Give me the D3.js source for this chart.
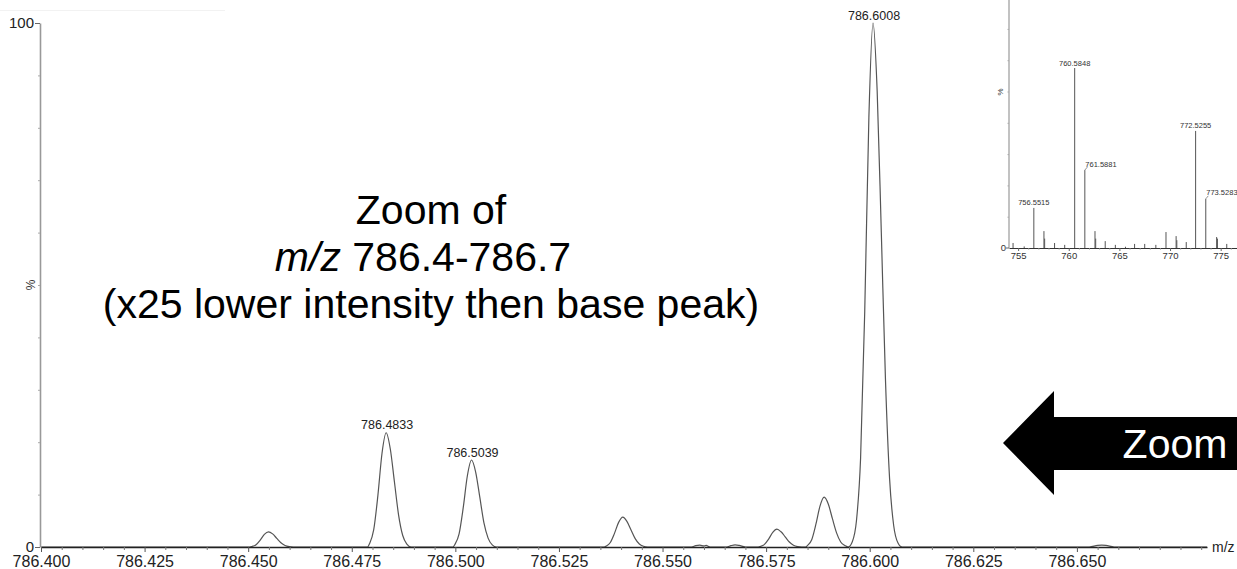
<!DOCTYPE html>
<html>
<head>
<meta charset="utf-8">
<script src="https://cdn.jsdelivr.net/npm/d3@7"></script>
<style>
  html, body { margin: 0; padding: 0; background: #fff; }
  svg { display: block; font-family: "Liberation Sans", Arial, sans-serif; }
</style>
</head>
<body>
<svg id="chart" width="1237" height="569"></svg>
<script>
// ---------- DATA ----------
// Main zoomed profile spectrum (m/z 786.40-786.68), relative intensity %
const profileMz = [
  786.4000, 786.4504, 786.4509, 786.4519, 786.4529, 786.4539, 786.4549, 786.4559, 786.4569, 786.4579, 786.4589, 786.4599, 786.4609,
  786.4788, 786.4793, 786.4803, 786.4813, 786.4823, 786.4833, 786.4843, 786.4853, 786.4863, 786.4873, 786.4883, 786.4893,
  786.4994, 786.4999, 786.5009, 786.5019, 786.5029, 786.5039, 786.5049, 786.5059, 786.5069, 786.5079, 786.5089, 786.5099,
  786.5359, 786.5364, 786.5374, 786.5384, 786.5394, 786.5404, 786.5414, 786.5424, 786.5434, 786.5444, 786.5454, 786.5464,
  786.5570, 786.5580, 786.5590, 786.5600, 786.5605, 786.5615,
  786.5655, 786.5665, 786.5675, 786.5685, 786.5700,
  786.5731, 786.5736, 786.5746, 786.5756, 786.5766, 786.5776, 786.5786, 786.5796, 786.5806, 786.5816, 786.5826, 786.5836,
  786.5845, 786.5850, 786.5860, 786.5870, 786.5880, 786.5890, 786.5900, 786.5910, 786.5920, 786.5930, 786.5940,
  786.5948, 786.5958, 786.5968, 786.5978, 786.5988, 786.5998, 786.6008, 786.6018, 786.6028, 786.6038, 786.6048, 786.6058, 786.6068, 786.6078,
  786.6530, 786.6550, 786.6560, 786.6570, 786.6590, 786.6814
];
const profileIntensity = [
  0, 0, 0.09, 0.44, 1.3, 2.4, 2.9, 2.5, 1.65, 0.81, 0.29, 0.07, 0,
  0, 0.65, 3.3, 9.8, 17.9, 21.8, 18.7, 12.4, 6.1, 2.2, 0.55, 0,
  0, 0.5, 2.5, 7.5, 13.6, 16.6, 14.3, 9.5, 4.6, 1.7, 0.4, 0,
  0, 0.17, 0.86, 2.6, 4.7, 5.7, 4.9, 3.25, 1.6, 0.57, 0.14, 0,
  0, 0.25, 0.35, 0.2, 0.3, 0,
  0, 0.25, 0.4, 0.3, 0,
  0, 0.1, 0.5, 1.5, 2.8, 3.4, 2.9, 1.95, 0.95, 0.34, 0.08, 0,
  0, 0.3, 1.4, 4.3, 7.8, 9.5, 8.2, 5.4, 2.7, 0.95, 0.3,
  0, 1, 5, 17, 45, 82, 100, 87, 60, 32, 13, 4, 0.8, 0,
  0, 0.3, 0.35, 0.3, 0, 0
];
// Labelled peaks of the zoomed spectrum
const peakLabelMz = [786.4833, 786.5039, 786.6008];
const peakLabelIntensity = [21.8, 16.6, 100];
const peakLabelText = ["786.4833", "786.5039", "786.6008"];

// Main axis ticks
const xMajorTicks = [786.400, 786.425, 786.450, 786.475, 786.500, 786.525, 786.550, 786.575, 786.600, 786.625, 786.650];
const xMinorTicks = [786.405, 786.410, 786.415, 786.420, 786.430, 786.435, 786.440, 786.445, 786.455, 786.460, 786.465, 786.470,
  786.480, 786.485, 786.490, 786.495, 786.505, 786.510, 786.515, 786.520, 786.530, 786.535, 786.540, 786.545,
  786.555, 786.560, 786.565, 786.570, 786.580, 786.585, 786.590, 786.595, 786.605, 786.610, 786.615, 786.620,
  786.630, 786.635, 786.640, 786.645, 786.655, 786.660, 786.665, 786.670, 786.675, 786.680];
const yMajorTicks = [0, 100];
const yMinorTicks = [10, 20, 30, 40, 50, 60, 70, 80, 90];

// Inset: centroid spectrum (m/z 754-777)
const insetMz = [754.5, 755.6, 756.5515, 757.55, 757.62, 758.6, 759.6, 760.5848, 761.5881, 762.59, 762.66, 763.6, 764.6,
  765.6, 766.5, 767.5, 768.6, 769.6, 770.6, 770.67, 771.6, 772.5255, 773.5283, 774.6, 774.68, 775.6];
const insetIntensity = [1.6, 0.5, 12.8, 5.4, 3.0, 1.6, 1.0, 57.5, 24.9, 5.4, 3.0, 2.2, 1.0,
  0.4, 1.3, 1.3, 1.0, 5.1, 3.8, 2.5, 1.9, 37.4, 15.7, 3.5, 3.0, 1.3];
const insetLabelMz = [756.5515, 760.5848, 761.5881, 772.5255, 773.5283];
const insetLabelIntensity = [12.8, 57.5, 24.9, 37.4, 15.7];
const insetLabelText = ["756.5515", "760.5848", "761.5881", "772.5255", "773.5283"];
const insetLabelSide = ["center", "center", "right", "center", "right"];
const insetXTicks = [755, 760, 765, 770, 775];
const insetXMinor = [756, 757, 758, 759, 761, 762, 763, 764, 766, 767, 768, 769, 771, 772, 773, 774, 776, 777];
const insetYMinor = [10, 20, 30, 40, 50, 60, 70];

// Annotation text
const noteLine1 = "Zoom of";
const noteLine2Italic = "m/z";
const noteLine2Rest = " 786.4-786.7";
const noteLine3 = "(x25 lower intensity then base peak)";
const arrowText = "Zoom";

// ---------- DRAWING ----------
const svg = d3.select("#chart");
const font = '"Liberation Sans", Arial, sans-serif';

// faint border artefact at top-left
svg.append("line").attr("x1", 0).attr("x2", 225).attr("y1", 10.5).attr("y2", 10.5)
  .attr("stroke", "#f2f2f2").attr("stroke-width", 1);

const x = d3.scaleLinear().domain([786.4, 786.6814]).range([41, 1207]);
const y = d3.scaleLinear().domain([0, 100]).range([547, 23]);

// spectrum trace
const pts = profileMz.map((m, i) => [m, profileIntensity[i]]);
const line = d3.line().x(d => x(d[0])).y(d => y(d[1])).curve(d3.curveMonotoneX);
svg.append("path").datum(pts).attr("d", line)
  .attr("fill", "none").attr("stroke", "#555").attr("stroke-width", 1.2);

// x axis
const xAxis = d3.axisBottom(x).tickValues(xMajorTicks).tickFormat(d3.format(".3f"))
  .tickSizeInner(5).tickSizeOuter(0).tickPadding(3.6);
const gx = svg.append("g").attr("transform", `translate(0,${y(0)})`).call(xAxis);
gx.select(".domain").attr("stroke", "#222").attr("stroke-width", 1.3);
gx.selectAll(".tick line").attr("stroke", "#555");
gx.selectAll(".tick text").attr("font-size", 16).attr("font-family", font).attr("fill", "#222");
const xMinorAxis = d3.axisBottom(x).tickValues(xMinorTicks).tickFormat("").tickSizeInner(3).tickSizeOuter(0);
const gxm = svg.append("g").attr("transform", `translate(0,${y(0)})`).call(xMinorAxis);
gxm.select(".domain").remove();
gxm.selectAll(".tick line").attr("stroke", "#777");

svg.append("text").attr("x", 1212).attr("y", y(0) + 5).attr("font-size", 14).attr("font-family", font)
  .attr("fill", "#222").text("m/z");

// y axis
const yAxis = d3.axisLeft(y).tickValues(yMajorTicks).tickSizeInner(5).tickSizeOuter(0).tickPadding(1);
const gy = svg.append("g").attr("transform", `translate(40,0)`).call(yAxis);
gy.select(".domain").attr("stroke", "#999").attr("stroke-width", 1.6);
gy.selectAll(".tick line").attr("stroke", "#666");
gy.selectAll(".tick text").attr("font-size", 15).attr("font-family", font).attr("fill", "#222");
const yMinorAxis = d3.axisLeft(y).tickValues(yMinorTicks).tickFormat("").tickSizeInner(2).tickSizeOuter(0);
const gym = svg.append("g").attr("transform", `translate(40,0)`).call(yMinorAxis);
gym.select(".domain").remove();
gym.selectAll(".tick line").attr("stroke", "#aaa");

svg.append("text").attr("transform", "translate(35,285) rotate(-90)").attr("text-anchor", "middle")
  .attr("font-size", 12).attr("font-family", font).attr("fill", "#333").text("%");

// peak labels
peakLabelMz.forEach((m, i) => {
  const px = x(m), py = y(peakLabelIntensity[i]);
  svg.append("text").attr("x", px + 1).attr("y", py - 3.5).attr("text-anchor", "middle")
    .attr("font-size", 12.5).attr("font-family", font).attr("fill", "#222").text(peakLabelText[i]);
});

// annotation text
const note = svg.append("g").attr("font-family", font).attr("font-size", 41).attr("fill", "#000").attr("text-anchor", "middle");
note.append("text").attr("x", 431).attr("y", 224).text(noteLine1);
const l2 = note.append("text").attr("x", 423).attr("y", 271);
l2.append("tspan").attr("font-style", "italic").text(noteLine2Italic);
l2.append("tspan").text(noteLine2Rest);
note.append("text").attr("x", 431).attr("y", 318).text(noteLine3);

// ---------- INSET ----------
const ix = d3.scaleLinear().domain([754.1, 777.5]).range([1009, 1246]);
const iy = d3.scaleLinear().domain([0, 100]).range([248, -65]);
const inset = svg.append("g");

inset.selectAll("line.stick").data(insetMz).join("line").attr("class", "stick")
  .attr("x1", d => ix(d)).attr("x2", d => ix(d))
  .attr("y1", iy(0)).attr("y2", (d, i) => iy(insetIntensity[i]))
  .attr("stroke", "#555").attr("stroke-width", 1);

const ixAxis = d3.axisBottom(ix).tickValues(insetXTicks).tickFormat(d3.format("d")).tickSizeInner(3).tickSizeOuter(0).tickPadding(1);
const gix = inset.append("g").attr("transform", `translate(0,${iy(0)})`).call(ixAxis);
gix.select(".domain").attr("stroke", "#333");
gix.selectAll(".tick line").attr("stroke", "#666");
gix.selectAll(".tick text").attr("font-size", 9.5).attr("font-family", font).attr("fill", "#333");
const ixMinor = d3.axisBottom(ix).tickValues(insetXMinor).tickFormat("").tickSizeInner(1.5).tickSizeOuter(0);
const gixm = inset.append("g").attr("transform", `translate(0,${iy(0)})`).call(ixMinor);
gixm.select(".domain").remove();
gixm.selectAll(".tick line").attr("stroke", "#888");

inset.append("line").attr("x1", 1009).attr("x2", 1009).attr("y1", 0).attr("y2", iy(0))
  .attr("stroke", "#999").attr("stroke-width", 1.2);
const iyMinor = d3.axisLeft(iy).tickValues(insetYMinor).tickFormat("").tickSizeInner(1.5).tickSizeOuter(0);
const giym = inset.append("g").attr("transform", "translate(1009,0)").call(iyMinor);
giym.select(".domain").remove();
giym.selectAll(".tick line").attr("stroke", "#aaa");
inset.append("line").attr("x1", 1006).attr("x2", 1009).attr("y1", iy(0)).attr("y2", iy(0)).attr("stroke", "#666");
inset.append("text").attr("x", 1006).attr("y", iy(0) + 3).attr("text-anchor", "end")
  .attr("font-size", 9.5).attr("font-family", font).attr("fill", "#333").text("0");
inset.append("text").attr("transform", "translate(1003,92) rotate(-90)").attr("text-anchor", "middle")
  .attr("font-size", 8).attr("font-family", font).attr("fill", "#333").text("%");

insetLabelMz.forEach((m, i) => {
  const px = ix(m), py = iy(insetLabelIntensity[i]);
  if (insetLabelSide[i] === "center") {
    inset.append("text").attr("x", px).attr("y", py - 2.5).attr("text-anchor", "middle")
      .attr("font-size", 7.5).attr("font-family", font).attr("fill", "#333").text(insetLabelText[i]);
  } else {
    inset.append("line").attr("x1", px).attr("y1", py).attr("x2", px + 2.5).attr("y2", py - 3)
      .attr("stroke", "#777").attr("stroke-width", 0.8);
    inset.append("text").attr("x", px + 0.5).attr("y", py - 3.5).attr("text-anchor", "start")
      .attr("font-size", 7.5).attr("font-family", font).attr("fill", "#333").text(insetLabelText[i]);
  }
});

// ---------- ARROW ----------
const arrowPts = [[1003, 443], [1054, 391], [1054, 417], [1240, 417], [1240, 470], [1054, 470], [1054, 495]];
svg.append("path").attr("d", d3.line()(arrowPts) + "Z").attr("fill", "#000");
svg.append("text").attr("x", 1175).attr("y", 458).attr("text-anchor", "middle")
  .attr("font-size", 41).attr("font-family", font).attr("fill", "#fff").text(arrowText);
</script>
</body>
</html>
